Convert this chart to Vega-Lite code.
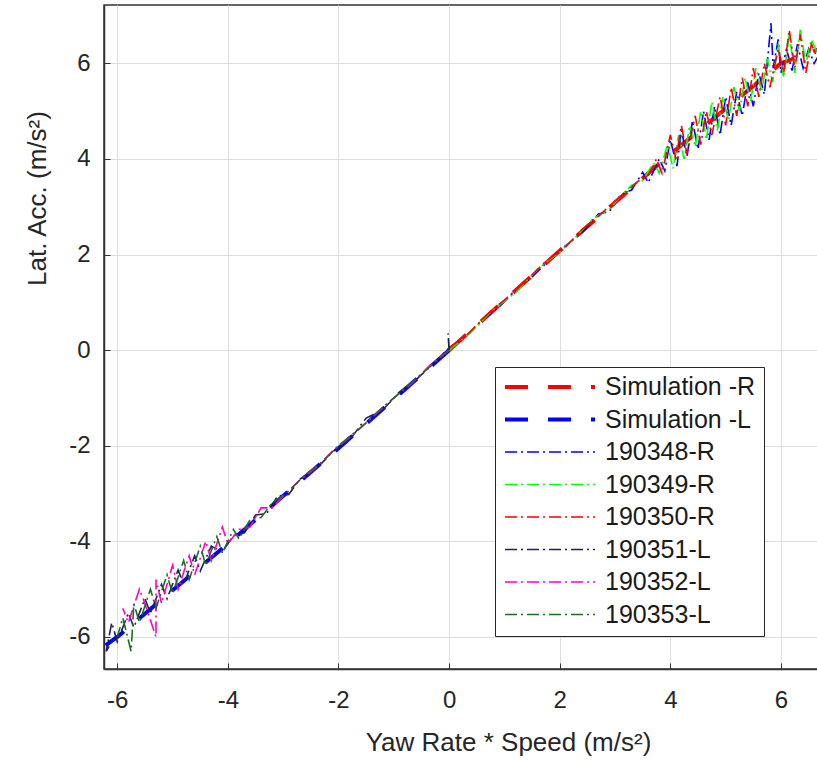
{
 "$schema": "https://vega.github.io/schema/vega-lite/v6.json",
 "width": 714, "height": 664,
 "autosize": {"type": "none"},
 "padding": {"left": 104, "top": 5, "right": 0, "bottom": 92},
 "background": "white",
 "config": {"view": {"stroke": "#333333", "strokeWidth": 1.5}, "font": "Liberation Sans"},
 "data": {"values": [
  {"s":"Simulation -R","i":0,"x":0,"y":0},{"s":"Simulation -R","i":1,"x":2,"y":2.08},{"s":"Simulation -R","i":2,"x":4,"y":4.1},{"s":"Simulation -R","i":3,"x":6,"y":6.0},{"s":"Simulation -R","i":4,"x":6.7,"y":6.3},
  {"s":"Simulation -L","i":0,"x":0,"y":0},{"s":"Simulation -L","i":1,"x":-2,"y":-2.05},{"s":"Simulation -L","i":2,"x":-4,"y":-4.05},{"s":"Simulation -L","i":3,"x":-6,"y":-6.0},{"s":"Simulation -L","i":4,"x":-6.3,"y":-6.25},

  {"s":"190348-R","i":0,"x":0,"y":0.02},{"s":"190348-R","i":1,"x":0.3,"y":0.28},{"s":"190348-R","i":2,"x":0.6,"y":0.62},{"s":"190348-R","i":3,"x":0.9,"y":0.9},{"s":"190348-R","i":4,"x":1.2,"y":1.24},{"s":"190348-R","i":5,"x":1.5,"y":1.53},{"s":"190348-R","i":6,"x":1.8,"y":1.87},{"s":"190348-R","i":7,"x":2.1,"y":2.18},{"s":"190348-R","i":8,"x":2.4,"y":2.45},{"s":"190348-R","i":9,"x":2.7,"y":2.85},{"s":"190348-R","i":10,"x":2.9,"y":2.9},{"s":"190348-R","i":11,"x":3.1,"y":3.25},{"s":"190348-R","i":12,"x":3.3,"y":3.35},{"s":"190348-R","i":13,"x":3.5,"y":3.72},{"s":"190348-R","i":14,"x":3.6,"y":3.5},{"s":"190348-R","i":15,"x":3.8,"y":4.0},{"s":"190348-R","i":16,"x":3.9,"y":3.75},{"s":"190348-R","i":17,"x":4.0,"y":4.4},{"s":"190348-R","i":18,"x":4.12,"y":3.85},{"s":"190348-R","i":19,"x":4.2,"y":4.6},{"s":"190348-R","i":20,"x":4.3,"y":4.05},{"s":"190348-R","i":21,"x":4.4,"y":4.8},{"s":"190348-R","i":22,"x":4.5,"y":4.2},{"s":"190348-R","i":23,"x":4.6,"y":5.0},{"s":"190348-R","i":24,"x":4.7,"y":4.4},{"s":"190348-R","i":25,"x":4.8,"y":5.1},{"s":"190348-R","i":26,"x":4.9,"y":4.5},{"s":"190348-R","i":27,"x":5.0,"y":5.3},{"s":"190348-R","i":28,"x":5.1,"y":4.7},{"s":"190348-R","i":29,"x":5.2,"y":5.4},{"s":"190348-R","i":30,"x":5.3,"y":4.9},{"s":"190348-R","i":31,"x":5.4,"y":5.6},{"s":"190348-R","i":32,"x":5.5,"y":5.1},{"s":"190348-R","i":33,"x":5.6,"y":5.8},{"s":"190348-R","i":34,"x":5.7,"y":5.35},{"s":"190348-R","i":35,"x":5.82,"y":6.84},{"s":"190348-R","i":36,"x":5.86,"y":5.9},{"s":"190348-R","i":37,"x":5.95,"y":6.5},{"s":"190348-R","i":38,"x":6.0,"y":5.8},{"s":"190348-R","i":39,"x":6.1,"y":6.3},{"s":"190348-R","i":40,"x":6.2,"y":5.85},{"s":"190348-R","i":41,"x":6.3,"y":6.4},{"s":"190348-R","i":42,"x":6.4,"y":5.9},{"s":"190348-R","i":43,"x":6.5,"y":6.3},{"s":"190348-R","i":44,"x":6.6,"y":6.0},{"s":"190348-R","i":45,"x":6.7,"y":6.2},

  {"s":"190349-R","i":0,"x":0,"y":0.0},{"s":"190349-R","i":1,"x":0.4,"y":0.38},{"s":"190349-R","i":2,"x":0.8,"y":0.85},{"s":"190349-R","i":3,"x":1.2,"y":1.2},{"s":"190349-R","i":4,"x":1.6,"y":1.7},{"s":"190349-R","i":5,"x":2.0,"y":2.05},{"s":"190349-R","i":6,"x":2.3,"y":2.38},{"s":"190349-R","i":7,"x":2.6,"y":2.75},{"s":"190349-R","i":8,"x":2.9,"y":2.95},{"s":"190349-R","i":9,"x":3.1,"y":3.22},{"s":"190349-R","i":10,"x":3.3,"y":3.45},{"s":"190349-R","i":11,"x":3.5,"y":3.55},{"s":"190349-R","i":12,"x":3.7,"y":3.92},{"s":"190349-R","i":13,"x":3.8,"y":3.7},{"s":"190349-R","i":14,"x":3.95,"y":4.3},{"s":"190349-R","i":15,"x":4.05,"y":3.8},{"s":"190349-R","i":16,"x":4.15,"y":4.5},{"s":"190349-R","i":17,"x":4.25,"y":4.0},{"s":"190349-R","i":18,"x":4.35,"y":4.7},{"s":"190349-R","i":19,"x":4.45,"y":4.25},{"s":"190349-R","i":20,"x":4.55,"y":5.0},{"s":"190349-R","i":21,"x":4.65,"y":4.4},{"s":"190349-R","i":22,"x":4.75,"y":5.2},{"s":"190349-R","i":23,"x":4.85,"y":4.6},{"s":"190349-R","i":24,"x":4.95,"y":5.3},{"s":"190349-R","i":25,"x":5.05,"y":4.8},{"s":"190349-R","i":26,"x":5.15,"y":5.5},{"s":"190349-R","i":27,"x":5.25,"y":5.0},{"s":"190349-R","i":28,"x":5.35,"y":5.7},{"s":"190349-R","i":29,"x":5.45,"y":5.2},{"s":"190349-R","i":30,"x":5.55,"y":5.9},{"s":"190349-R","i":31,"x":5.65,"y":5.4},{"s":"190349-R","i":32,"x":5.75,"y":6.1},{"s":"190349-R","i":33,"x":5.85,"y":5.6},{"s":"190349-R","i":34,"x":5.95,"y":6.4},{"s":"190349-R","i":35,"x":6.05,"y":5.7},{"s":"190349-R","i":36,"x":6.15,"y":6.6},{"s":"190349-R","i":37,"x":6.25,"y":5.8},{"s":"190349-R","i":38,"x":6.35,"y":6.7},{"s":"190349-R","i":39,"x":6.45,"y":6.0},{"s":"190349-R","i":40,"x":6.55,"y":6.5},{"s":"190349-R","i":41,"x":6.7,"y":6.1},

  {"s":"190350-R","i":0,"x":0,"y":0.05},{"s":"190350-R","i":1,"x":0.35,"y":0.35},{"s":"190350-R","i":2,"x":0.7,"y":0.76},{"s":"190350-R","i":3,"x":1.05,"y":1.1},{"s":"190350-R","i":4,"x":1.4,"y":1.46},{"s":"190350-R","i":5,"x":1.75,"y":1.86},{"s":"190350-R","i":6,"x":2.1,"y":2.15},{"s":"190350-R","i":7,"x":2.4,"y":2.52},{"s":"190350-R","i":8,"x":2.7,"y":2.8},{"s":"190350-R","i":9,"x":3.0,"y":3.12},{"s":"190350-R","i":10,"x":3.2,"y":3.3},{"s":"190350-R","i":11,"x":3.4,"y":3.52},{"s":"190350-R","i":12,"x":3.6,"y":3.65},{"s":"190350-R","i":13,"x":3.75,"y":4.0},{"s":"190350-R","i":14,"x":3.85,"y":3.7},{"s":"190350-R","i":15,"x":4.0,"y":4.5},{"s":"190350-R","i":16,"x":4.1,"y":4.0},{"s":"190350-R","i":17,"x":4.2,"y":4.7},{"s":"190350-R","i":18,"x":4.3,"y":4.1},{"s":"190350-R","i":19,"x":4.45,"y":4.9},{"s":"190350-R","i":20,"x":4.55,"y":4.3},{"s":"190350-R","i":21,"x":4.65,"y":5.0},{"s":"190350-R","i":22,"x":4.75,"y":4.5},{"s":"190350-R","i":23,"x":4.9,"y":5.3},{"s":"190350-R","i":24,"x":5.0,"y":4.7},{"s":"190350-R","i":25,"x":5.1,"y":5.5},{"s":"190350-R","i":26,"x":5.2,"y":4.9},{"s":"190350-R","i":27,"x":5.3,"y":5.7},{"s":"190350-R","i":28,"x":5.4,"y":5.1},{"s":"190350-R","i":29,"x":5.5,"y":5.9},{"s":"190350-R","i":30,"x":5.6,"y":5.3},{"s":"190350-R","i":31,"x":5.7,"y":6.0},{"s":"190350-R","i":32,"x":5.8,"y":5.5},{"s":"190350-R","i":33,"x":5.95,"y":6.3},{"s":"190350-R","i":34,"x":6.05,"y":5.8},{"s":"190350-R","i":35,"x":6.15,"y":6.7},{"s":"190350-R","i":36,"x":6.25,"y":5.9},{"s":"190350-R","i":37,"x":6.35,"y":6.6},{"s":"190350-R","i":38,"x":6.45,"y":5.8},{"s":"190350-R","i":39,"x":6.55,"y":6.4},{"s":"190350-R","i":40,"x":6.7,"y":6.0},

  {"s":"190351-L","i":0,"x":0,"y":0.0},{"s":"190351-L","i":1,"x":-0.02,"y":0.35},{"s":"190351-L","i":2,"x":0.0,"y":0.05},{"s":"190351-L","i":3,"x":-0.3,"y":-0.3},{"s":"190351-L","i":4,"x":-0.6,"y":-0.62},{"s":"190351-L","i":5,"x":-0.9,"y":-0.88},{"s":"190351-L","i":6,"x":-1.2,"y":-1.25},{"s":"190351-L","i":7,"x":-1.5,"y":-1.42},{"s":"190351-L","i":8,"x":-1.8,"y":-1.88},{"s":"190351-L","i":9,"x":-2.1,"y":-2.12},{"s":"190351-L","i":10,"x":-2.4,"y":-2.48},{"s":"190351-L","i":11,"x":-2.7,"y":-2.7},{"s":"190351-L","i":12,"x":-2.9,"y":-3.02},{"s":"190351-L","i":13,"x":-3.1,"y":-3.05},{"s":"190351-L","i":14,"x":-3.3,"y":-3.42},{"s":"190351-L","i":15,"x":-3.5,"y":-3.45},{"s":"190351-L","i":16,"x":-3.7,"y":-3.82},{"s":"190351-L","i":17,"x":-3.9,"y":-3.88},{"s":"190351-L","i":18,"x":-4.1,"y":-4.22},{"s":"190351-L","i":19,"x":-4.3,"y":-4.1},{"s":"190351-L","i":20,"x":-4.5,"y":-4.62},{"s":"190351-L","i":21,"x":-4.6,"y":-4.3},{"s":"190351-L","i":22,"x":-4.8,"y":-4.9},{"s":"190351-L","i":23,"x":-4.9,"y":-4.6},{"s":"190351-L","i":24,"x":-5.1,"y":-5.2},{"s":"190351-L","i":25,"x":-5.2,"y":-4.9},{"s":"190351-L","i":26,"x":-5.4,"y":-5.5},{"s":"190351-L","i":27,"x":-5.5,"y":-5.2},{"s":"190351-L","i":28,"x":-5.7,"y":-5.8},{"s":"190351-L","i":29,"x":-5.8,"y":-5.5},{"s":"190351-L","i":30,"x":-6.0,"y":-6.1},{"s":"190351-L","i":31,"x":-6.1,"y":-5.7},{"s":"190351-L","i":32,"x":-6.2,"y":-6.3},{"s":"190351-L","i":33,"x":-6.05,"y":-6.0},

  {"s":"190352-L","i":0,"x":0,"y":0},{"s":"190352-L","i":1,"x":-0.35,"y":-0.32},{"s":"190352-L","i":2,"x":-0.7,"y":-0.72},{"s":"190352-L","i":3,"x":-1.05,"y":-1.05},{"s":"190352-L","i":4,"x":-1.4,"y":-1.42},{"s":"190352-L","i":5,"x":-1.75,"y":-1.78},{"s":"190352-L","i":6,"x":-2.1,"y":-2.1},{"s":"190352-L","i":7,"x":-2.4,"y":-2.45},{"s":"190352-L","i":8,"x":-2.7,"y":-2.72},{"s":"190352-L","i":9,"x":-3.0,"y":-3.05},{"s":"190352-L","i":10,"x":-3.2,"y":-3.3},{"s":"190352-L","i":11,"x":-3.4,"y":-3.3},{"s":"190352-L","i":12,"x":-3.6,"y":-3.7},{"s":"190352-L","i":13,"x":-3.8,"y":-3.75},{"s":"190352-L","i":14,"x":-4.0,"y":-4.05},{"s":"190352-L","i":15,"x":-4.1,"y":-3.7},{"s":"190352-L","i":16,"x":-4.3,"y":-4.4},{"s":"190352-L","i":17,"x":-4.4,"y":-4.0},{"s":"190352-L","i":18,"x":-4.6,"y":-4.7},{"s":"190352-L","i":19,"x":-4.7,"y":-4.3},{"s":"190352-L","i":20,"x":-4.9,"y":-5.0},{"s":"190352-L","i":21,"x":-5.0,"y":-4.5},{"s":"190352-L","i":22,"x":-5.2,"y":-5.3},{"s":"190352-L","i":23,"x":-5.3,"y":-4.8},{"s":"190352-L","i":24,"x":-5.3,"y":-6.0},{"s":"190352-L","i":25,"x":-5.5,"y":-5.3},{"s":"190352-L","i":26,"x":-5.6,"y":-5.0},{"s":"190352-L","i":27,"x":-5.8,"y":-5.7},{"s":"190352-L","i":28,"x":-5.9,"y":-5.4},

  {"s":"190353-L","i":0,"x":0,"y":0},{"s":"190353-L","i":1,"x":-0.4,"y":-0.4},{"s":"190353-L","i":2,"x":-0.8,"y":-0.8},{"s":"190353-L","i":3,"x":-1.2,"y":-1.2},{"s":"190353-L","i":4,"x":-1.6,"y":-1.62},{"s":"190353-L","i":5,"x":-2.0,"y":-2.0},{"s":"190353-L","i":6,"x":-2.3,"y":-2.35},{"s":"190353-L","i":7,"x":-2.6,"y":-2.6},{"s":"190353-L","i":8,"x":-2.9,"y":-2.95},{"s":"190353-L","i":9,"x":-3.2,"y":-3.2},{"s":"190353-L","i":10,"x":-3.4,"y":-3.5},{"s":"190353-L","i":11,"x":-3.6,"y":-3.55},{"s":"190353-L","i":12,"x":-3.8,"y":-3.95},{"s":"190353-L","i":13,"x":-3.9,"y":-3.75},{"s":"190353-L","i":14,"x":-4.1,"y":-4.25},{"s":"190353-L","i":15,"x":-4.2,"y":-3.9},{"s":"190353-L","i":16,"x":-4.4,"y":-4.5},{"s":"190353-L","i":17,"x":-4.5,"y":-4.1},{"s":"190353-L","i":18,"x":-4.7,"y":-4.8},{"s":"190353-L","i":19,"x":-4.8,"y":-4.4},{"s":"190353-L","i":20,"x":-5.0,"y":-5.1},{"s":"190353-L","i":21,"x":-5.1,"y":-4.7},{"s":"190353-L","i":22,"x":-5.3,"y":-5.4},{"s":"190353-L","i":23,"x":-5.4,"y":-5.0},{"s":"190353-L","i":24,"x":-5.6,"y":-5.7},{"s":"190353-L","i":25,"x":-5.7,"y":-5.3},{"s":"190353-L","i":26,"x":-5.75,"y":-6.3},{"s":"190353-L","i":27,"x":-5.9,"y":-5.6},{"s":"190353-L","i":28,"x":-6.0,"y":-6.0}
 ]},
 "encoding": {
  "x": {"field": "x", "type": "quantitative",
   "scale": {"domain": [-6.24, 6.67], "nice": false, "zero": false},
   "axis": {"values": [-6, -4, -2, 0, 2, 4, 6], "labelExpr": "datum.value", "grid": true, "gridColor": "#dddddd", "domainColor": "#333333", "domainWidth": 1.5, "tickColor": "#333333", "tickSize": -6, "labelPadding": 25, "labelFontSize": 24, "labelColor": "#262626", "labelFlush": false,
    "title": "Yaw Rate * Speed (m/s²)", "titleFontSize": 26, "titleFontWeight": "normal", "titleColor": "#262626", "titleX": 404, "titleY": 73, "titleBaseline": "middle"}},
  "y": {"field": "y", "type": "quantitative",
   "scale": {"domain": [-6.67, 7.22], "nice": false, "zero": false},
   "axis": {"values": [-6, -4, -2, 0, 2, 4, 6], "labelExpr": "datum.value", "grid": true, "gridColor": "#dddddd", "domainColor": "#333333", "domainWidth": 1.5, "tickColor": "#333333", "tickSize": -6, "labelPadding": 20, "labelFontSize": 24, "labelColor": "#262626", "labelFlush": false,
    "title": "Lat. Acc. (m/s²)", "titleFontSize": 26, "titleFontWeight": "normal", "titleColor": "#262626", "titleX": -67, "titleY": 193, "titleBaseline": "middle"}},
  "color": {"field": "s", "type": "nominal",
   "scale": {"domain": ["Simulation -R", "Simulation -L", "190348-R", "190349-R", "190350-R", "190351-L", "190352-L", "190353-L"],
    "range": ["#ff0000", "#0000ff", "#0000ff", "#00ff00", "#ff0000", "#1f1f55", "#ff00cc", "#1e6e1e"]},
   "legend": {"title": null, "orient": "none", "legendX": 391, "legendY": 362, "fillColor": "white", "strokeColor": "#262626", "padding": 8, "labelFontSize": 25, "labelColor": "#1a1a1a", "labelOffset": 8, "symbolSize": 8100, "symbolType": "stroke", "clipHeight": 24, "rowPadding": 7.5}},
  "strokeDash": {"field": "s", "type": "nominal",
   "scale": {"domain": ["Simulation -R", "Simulation -L", "190348-R", "190349-R", "190350-R", "190351-L", "190352-L", "190353-L"],
    "range": [[23, 20], [23, 20], [12, 4, 2, 4], [12, 4, 2, 4], [12, 4, 2, 4], [12, 4, 2, 4], [12, 4, 2, 4], [12, 4, 2, 4]]}},
  "strokeWidth": {"field": "s", "type": "ordinal",
   "scale": {"type": "ordinal", "domain": ["Simulation -R", "Simulation -L", "190348-R", "190349-R", "190350-R", "190351-L", "190352-L", "190353-L"],
    "range": [4, 4, 1.6, 1.6, 1.6, 1.6, 1.6, 1.6]}},
  "order": {"field": "i", "type": "quantitative"}
 },
 "layer": [
  {"transform": [{"filter": "indexof(datum.s, 'Simulation') == 0"}],
   "mark": {"type": "line", "clip": true, "strokeCap": "butt"}},
  {"transform": [{"filter": "indexof(datum.s, 'Simulation') < 0"}],
   "mark": {"type": "line", "clip": true, "strokeCap": "butt"}}
 ]
}
